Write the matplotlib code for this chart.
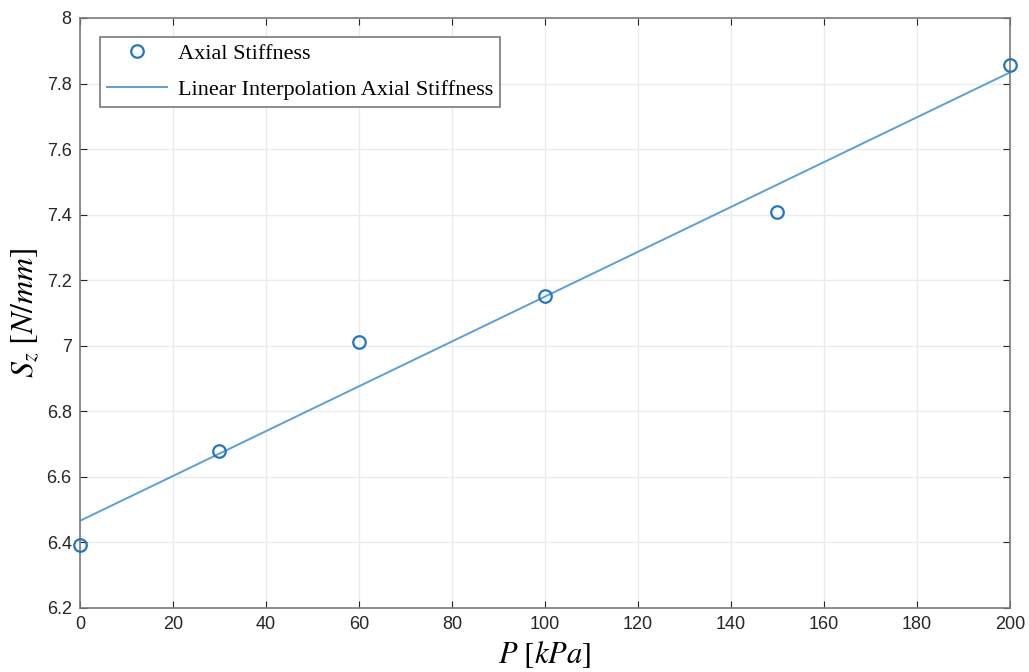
import numpy as np
import matplotlib.pyplot as plt

# measured points
pressure = [0, 30, 60, 100, 150, 200]
stiffness = [6.393, 6.678, 7.013, 7.153, 7.409, 7.857]

# linear fit line, endpoints
fit_p = [0, 200]
fit_s = [6.466, 7.834]

plt.rcParams['mathtext.fontset'] = 'stix'
plt.rcParams['font.family'] = 'Liberation Sans'

fig = plt.figure(figsize=(10.29, 6.72), dpi=100)
ax = fig.add_axes([80 / 1029, 1 - 608 / 672, 930 / 1029, 590 / 672])

ax.plot(pressure, stiffness, 'o', markersize=9, markerfacecolor='none',
        markeredgecolor='#1f77c4', markeredgewidth=1.6, label='Axial Stiffness',
        clip_on=False, zorder=5)
ax.plot(fit_p, fit_s, '-', color='#5b9fd8', linewidth=1.4,
        label='Linear Interpolation Axial Stiffness')

ax.set_xlim(0, 200)
ax.set_ylim(6.2, 8)
ax.set_xticks(np.arange(0, 201, 20))
ax.set_yticks(np.arange(6.2, 8.01, 0.2))
ax.set_yticklabels(['6.2', '6.4', '6.6', '6.8', '7', '7.2', '7.4', '7.6', '7.8', '8'])
ax.grid(True, color='#ebebeb', linewidth=1)
ax.set_axisbelow(True)
ax.tick_params(direction='in', top=True, right=True, labelsize=13,
               colors='#262626', length=5, pad=6)
for s in ax.spines.values():
    s.set_color('#7a7a7a')
    s.set_linewidth(1.2)

ax.set_xlabel(r'$P\ [kPa]$', fontsize=22, labelpad=4)
ax.set_ylabel(r'$S_z\ [N/mm]$', fontsize=23, labelpad=4)

leg = ax.legend(loc='upper left', bbox_to_anchor=(0.0215, 0.968), borderaxespad=0,
                fancybox=False, edgecolor='#7a7a7a', framealpha=1,
                prop={'family': 'Liberation Serif', 'size': 16},
                handlelength=2.7, handletextpad=0.5, borderpad=0.3, labelspacing=0.7)
leg.get_frame().set_linewidth(1.2)

fig.savefig('out.png', dpi=100)
